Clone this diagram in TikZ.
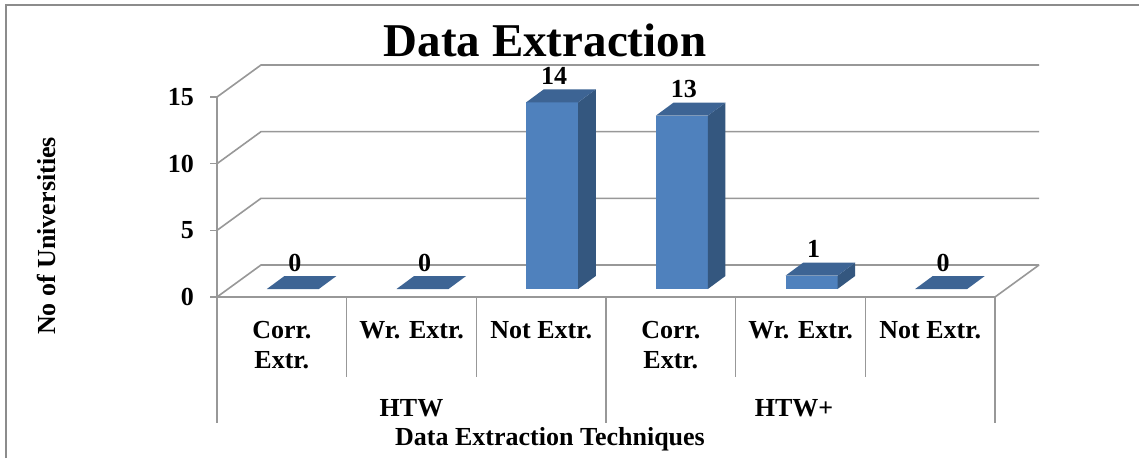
\documentclass[tikz,border=0pt]{standalone}
\usepackage{fontspec}
\setmainfont{Liberation Serif}
\begin{document}
\begin{tikzpicture}[x=1pt,y=-1pt,
  grid/.style={draw=gray!85!black!70, line width=1.6pt},
  frame/.style={draw=gray!80!black!75, line width=2pt},
  lbl/.style={font=\fontsize{26}{30}\selectfont\bfseries, inner sep=0pt, anchor=base},
  ticklbl/.style={font=\fontsize{26}{30}\selectfont\bfseries, inner sep=0pt, anchor=east},
  datalbl/.style={font=\fontsize{26}{30}\selectfont\bfseries, inner sep=0pt, anchor=base},
  barfront/.style={fill=barF},
  barside/.style={fill=barS},
  bartop/.style={fill=barT}]
\definecolor{barF}{HTML}{4F81BD}
\definecolor{barS}{HTML}{34577F}
\definecolor{barT}{HTML}{3D6494}
\useasboundingbox (0,0) rectangle (1139,458);
\fill[white] (0,0) rectangle (1139,458);

% chart frame (top and left edges)
\draw[frame] (6,458) -- (6,5) -- (1139,5);

% depth of the 3-D floor and scale of the value axis
\def\dx{44}\def\dy{32}
\def\unit{13.333}

% back wall gridlines and side wall diagonals
\foreach \v in {0,5,10,15}{
  \pgfmathsetmacro{\yf}{297-\v*\unit}
  \pgfmathsetmacro{\yb}{\yf-\dy}
  \draw[grid] (217,\yf) -- (217+\dx,\yb) -- (1039,\yb);
  \draw[grid] (210,\yf) -- (217,\yf);
}
% floor front edge and right edge
\draw[grid] (217,297) -- (995,297) -- (995+\dx,297-\dy);
% value axis
\draw[grid] (217,97) -- (217,297);
% category dividers
\foreach \k in {0,3,6}{ \draw[grid] (217+\k*129.667,297) -- (217+\k*129.667,423); }
\foreach \k in {1,2,4,5}{ \draw[grid] (217+\k*129.667,297) -- (217+\k*129.667,377); }

% value axis labels
\node[ticklbl] (t0)  at (194,297) {0};
\node[ticklbl] (t5)  at (194,230.3) {5};
\node[ticklbl] (t10) at (194,163.7) {10};
\node[ticklbl] (t15) at (194,97) {15};

% bars: category index, value
\foreach \k/\v in {0/0,1/0,2/14,3/13,4/1,5/0}{
  \pgfmathsetmacro{\cx}{217+(\k+0.5)*129.667}
  \pgfmathsetmacro{\xa}{\cx+11-26}
  \pgfmathsetmacro{\xb}{\cx+11+26}
  \pgfmathsetmacro{\h}{\v*\unit}
  \pgfmathsetmacro{\yt}{289-\h}
  \ifdim\v pt>0pt
    \fill[barfront] (\xa,289) rectangle (\xb,\yt);
    \fill[barside] (\xb,289) -- (\xb,\yt) -- (\xb+17.6,\yt-13) -- (\xb+17.6,276) -- cycle;
  \fi
  \fill[bartop] (\xa,\yt) -- (\xb,\yt) -- (\xb+17.6,\yt-13) -- (\xa+17.6,\yt-13) -- cycle;
  \node[datalbl] (d\k) at (\cx+13,\yt-18) {\v};
}

% category labels
\node[lbl] (c1a) at (281.8,338) {Corr.};
\node[lbl] (c1b) at (281.8,368) {Extr.};
\node[lbl] (c2)  at (411.5,338) {Wr. Extr.};
\node[lbl] (c3)  at (541.2,338) {Not Extr.};
\node[lbl] (c4a) at (670.8,338) {Corr.};
\node[lbl] (c4b) at (670.8,368) {Extr.};
\node[lbl] (c5)  at (800.5,338) {Wr. Extr.};
\node[lbl] (c6)  at (930.2,338) {Not Extr.};

% group labels
\node[lbl] (g1) at (411.5,416) {HTW};
\node[lbl] (g2) at (794,416) {HTW+};

% axis titles
\node[lbl] (xt) at (550,445) {Data Extraction Techniques};
\node[font=\fontsize{26}{30}\selectfont\bfseries, inner sep=0pt, rotate=90] (yt) at (46,236) {No of Universities};

% chart title
\node[font=\fontsize{47}{52}\selectfont\bfseries, inner sep=0pt, anchor=base] (title) at (545,56) {Data Extraction};
\end{tikzpicture}
\end{document}
